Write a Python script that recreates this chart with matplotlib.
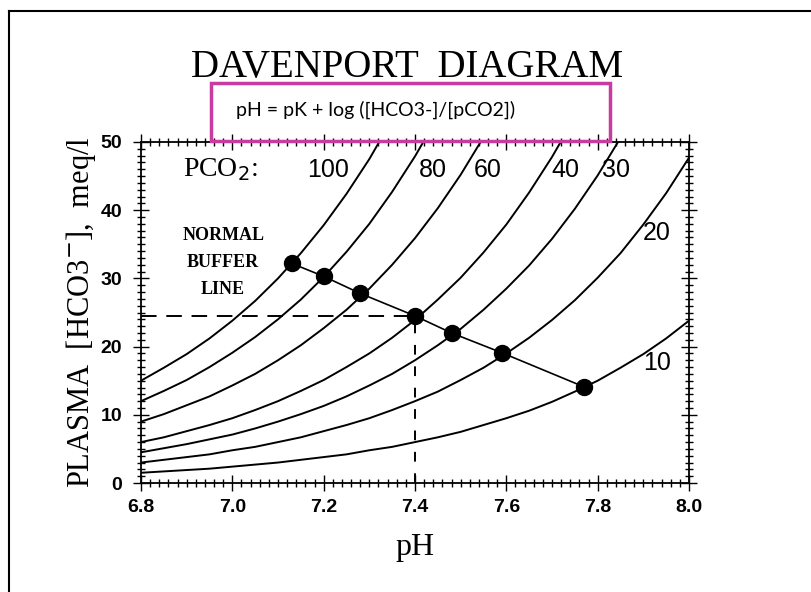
import matplotlib
matplotlib.use("Agg")
import matplotlib.pyplot as plt
from matplotlib.lines import Line2D
from matplotlib.patches import Rectangle

# ---- data ----
ph_grid = [6.80, 6.85, 6.90, 6.95, 7.00, 7.05, 7.10, 7.15, 7.20, 7.25, 7.30,
           7.35, 7.40, 7.45, 7.50, 7.55, 7.60, 7.65, 7.70, 7.75, 7.80, 7.85,
           7.90, 7.95, 8.00]

# HCO3- (meq/l) along each PCO2 isopleth at the pH grid points
hco3_pco2_100 = [15.0, 16.9, 18.9, 21.2, 23.8, 26.7, 30.0, 33.7, 37.8, 42.4,
                 47.5, 53.3]
hco3_pco2_80 = [12.0, 13.5, 15.1, 17.0, 19.1, 21.4, 24.0, 26.9, 30.2, 33.9,
                38.0, 42.7, 47.9, 53.7]
hco3_pco2_60 = [9.0, 10.1, 11.4, 12.7, 14.3, 16.0, 18.0, 20.2, 22.7, 25.4,
                28.5, 32.0, 35.9, 40.3, 45.2, 50.7]
hco3_pco2_40 = [6.0, 6.7, 7.6, 8.5, 9.5, 10.7, 12.0, 13.5, 15.1, 17.0, 19.0,
                21.3, 23.9, 26.9, 30.1, 33.8, 37.9, 42.6, 47.8, 53.6]
hco3_pco2_30 = [4.5, 5.1, 5.7, 6.4, 7.1, 8.0, 9.0, 10.1, 11.3, 12.7, 14.3,
                16.0, 18.0, 20.2, 22.6, 25.4, 28.5, 31.9, 35.8, 40.2, 45.1,
                50.6]
hco3_pco2_20 = [3.0, 3.4, 3.8, 4.2, 4.8, 5.3, 6.0, 6.7, 7.6, 8.5, 9.5, 10.7,
                12.0, 13.4, 15.1, 16.9, 19.0, 21.3, 23.9, 26.8, 30.1, 33.7,
                37.9, 42.5, 47.7]
hco3_pco2_10 = [1.5, 1.7, 1.9, 2.1, 2.4, 2.7, 3.0, 3.4, 3.8, 4.2, 4.8, 5.3,
                6.0, 6.7, 7.5, 8.5, 9.5, 10.6, 11.9, 13.4, 15.0, 16.9, 18.9,
                21.2, 23.8]

isopleths = [hco3_pco2_100, hco3_pco2_80, hco3_pco2_60, hco3_pco2_40,
             hco3_pco2_30, hco3_pco2_20, hco3_pco2_10]

# normal buffer line points
buffer_ph = [7.13, 7.20, 7.28, 7.40, 7.48, 7.59, 7.77]
buffer_hco3 = [32.2, 30.3, 27.8, 24.5, 22.0, 19.1, 14.1]

# normal point (dashed guides)
normal_ph = 7.40
normal_hco3 = 24.5

# curve labels: text, pH, HCO3
top_labels = ["100", "80", "60", "40", "30"]
top_label_ph = [7.21, 7.44, 7.56, 7.73, 7.84]
top_label_y = [45.9, 45.9, 45.9, 45.9, 45.9]
side_labels = ["20", "10"]
side_label_ph = [7.93, 7.93]
side_label_y = [36.6, 17.6]

serif = "Liberation Serif"
sans = "Liberation Sans"

fig = plt.figure(figsize=(8.11, 5.92), dpi=100)
ax = fig.add_axes([141 / 811, 1 - 483 / 592, 548 / 811, 341 / 592])

for ys in isopleths:
    ax.plot(ph_grid[:len(ys)], ys, color="black", lw=1.4, clip_on=True)

ax.plot(buffer_ph, buffer_hco3, color="black", lw=1.2, marker="o",
        markersize=11.5, markerfacecolor="black", zorder=5)

ax.plot([6.8, normal_ph], [normal_hco3, normal_hco3], color="black", lw=1.4,
        dashes=(8, 5))
ax.plot([normal_ph, normal_ph], [0, normal_hco3], color="black", lw=1.4,
        dashes=(5, 6))

ax.set_xlim(6.8, 8.0)
ax.set_ylim(0, 50)

ax.set_xticks([6.8, 7.0, 7.2, 7.4, 7.6, 7.8, 8.0])
ax.set_xticks([6.8 + 0.02 * i for i in range(61)], minor=True)
ax.set_yticks([0, 10, 20, 30, 40, 50])
ax.set_yticks(list(range(51)), minor=True)
ax.tick_params(which="both", direction="inout", top=True, right=True,
               width=1.0, color="black")
ax.tick_params(which="major", length=11)
ax.tick_params(which="minor", length=6)
ax.tick_params(axis="x", which="major", pad=6)
ax.tick_params(axis="y", which="major", pad=8)
for lab in ax.get_xticklabels() + ax.get_yticklabels():
    lab.set_fontfamily(sans)
    lab.set_fontweight("bold")
    lab.set_fontsize(14)
for sp in ax.spines.values():
    sp.set_linewidth(1.3)

ax.set_xlabel("pH", family=serif, fontsize=23, labelpad=12)
ax.set_ylabel(r"PLASMA  [HCO3$^{-}$],  meq/l", family=serif, fontsize=22,
              labelpad=2)

# curve labels
ax.text(6.893, 45.9, r"PCO$_2$:", family=serif, fontsize=20, va="center",
        ha="left")
for t, x, y in zip(top_labels, top_label_ph, top_label_y):
    ax.text(x, y, t, family=sans, fontsize=18, va="center", ha="center")
for t, x, y in zip(side_labels, side_label_ph, side_label_y):
    ax.text(x, y, t, family=sans, fontsize=18, va="center", ha="center")

ax.text(6.98, 32.3, "NORMAL\nBUFFER\nLINE", family=serif, fontweight="bold",
        fontsize=13, ha="center", va="center", linespacing=1.75)

# title and equation box
fig.text(407 / 811, 1 - 68 / 592, "DAVENPORT  DIAGRAM", family=serif,
         fontsize=28, ha="center", va="center")
fig.patches.append(Rectangle((211 / 811, 1 - 141 / 592), 399 / 811, 58 / 592,
                             transform=fig.transFigure, fill=False,
                             edgecolor="#c83ca0", lw=2.5, zorder=10))
fig.text(376 / 811, 1 - 110 / 592, "pH = pK + log ([HCO3-]/[pCO2])",
         family="Lato", fontsize=14, ha="center", va="center")

# page border (top and left only)
fig.lines.append(Line2D([9 / 811, 1], [1 - 11 / 592, 1 - 11 / 592],
                        transform=fig.transFigure, color="black", lw=1.5))
fig.lines.append(Line2D([9 / 811, 9 / 811], [0, 1 - 11 / 592],
                        transform=fig.transFigure, color="black", lw=1.5))

fig.savefig("out.png", dpi=100)
